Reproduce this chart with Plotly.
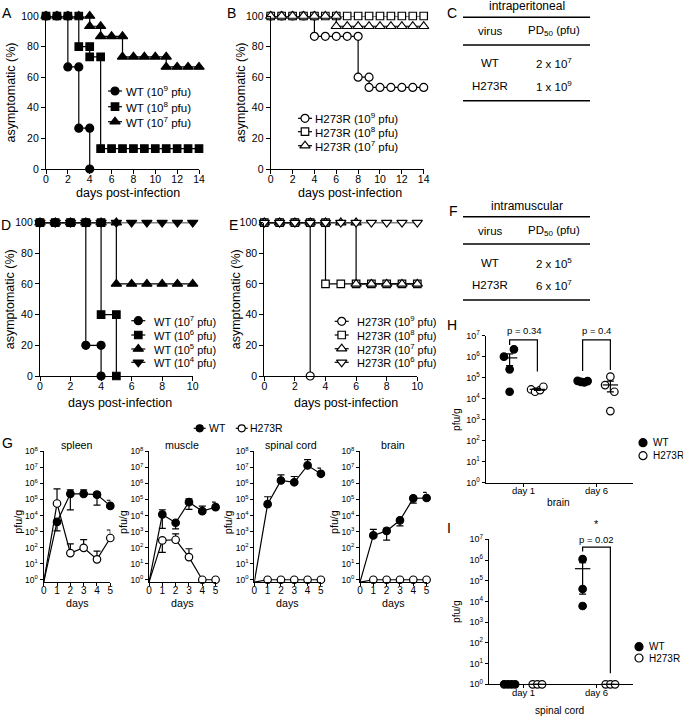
import numpy as np
import plotly.graph_objects as go

W, H = 683, 716
FONT = "Liberation Sans, Arial, sans-serif"
LW = 1.2

# ---------------- data ----------------
# A: WT, intraperitoneal, % asymptomatic by day (day index = position)
A_wt_1e9 = [100, 100, 66.7, 26.7, 0]
A_wt_1e8 = [100, 100, 100, 80, 73.3, 13.3, 13.3, 13.3, 13.3, 13.3, 13.3, 13.3, 13.3, 13.3, 13.3]
A_wt_1e7 = [100, 100, 100, 100, 93.3, 86.7, 86.7, 73.3, 73.3, 73.3, 73.3, 66.7, 66.7, 66.7, 66.7]
A_labels = ["WT (10<sup>9</sup> pfu)", "WT (10<sup>8</sup> pfu)", "WT (10<sup>7</sup> pfu)"]
# B: H273R, intraperitoneal
B_h_1e9 = [100, 100, 100, 100, 86.7, 86.7, 86.7, 86.7, 60, 53.3, 53.3, 53.3, 53.3, 53.3, 53.3]
B_h_1e8 = [100, 100, 100, 100, 100, 100, 100, 100, 100, 100, 100, 100, 100, 100, 100]
B_h_1e7 = [100, 100, 100, 100, 100, 100, 93.3, 93.3, 93.3, 93.3, 93.3, 93.3, 93.3, 93.3, 93.3]
B_labels = ["H273R (10<sup>9</sup> pfu)", "H273R (10<sup>8</sup> pfu)", "H273R (10<sup>7</sup> pfu)"]
# D: WT, intramuscular
D_wt_1e7 = [100, 100, 100, 20, 0]
D_wt_1e6 = [100, 100, 100, 100, 40, 0]
D_wt_1e5 = [100, 100, 100, 100, 100, 60, 60, 60, 60, 60, 60]
D_wt_1e4 = [100, 100, 100, 100, 100, 100, 100, 100, 100, 100, 100]
D_labels = ["WT (10<sup>7</sup> pfu)", "WT (10<sup>6</sup> pfu)", "WT (10<sup>5</sup> pfu)", "WT (10<sup>4</sup> pfu)"]
# E: H273R, intramuscular
E_h_1e9 = [100, 100, 100, 0]
E_h_1e8 = [100, 100, 100, 100, 60, 60, 60, 60, 60, 60, 60]
E_h_1e7 = [100, 100, 100, 100, 100, 100, 60, 60, 60, 60, 60]
E_h_1e6 = [100, 100, 100, 100, 100, 100, 100, 100, 100, 100, 100]
E_labels = ["H273R (10<sup>9</sup> pfu)", "H273R (10<sup>8</sup> pfu)", "H273R (10<sup>7</sup> pfu)", "H273R (10<sup>6</sup> pfu)"]

# Tables C and F
C_rows = [("WT", "2 x 10<sup>7</sup>"), ("H273R", "1 x 10<sup>9</sup>")]
F_rows = [("WT", "2 x 10<sup>5</sup>"), ("H273R", "6 x 10<sup>7</sup>")]

# G: viral titres (log10 pfu/g) by day; None = no bar drawn on that side
G_days = [0, 1, 2, 3, 4, 5]
G_organs = ["spleen", "muscle", "spinal cord", "brain"]
G_wt_log = {
    "spleen":      [-0.15, 3.6, 5.35, 5.35, 5.3, 4.6],
    "muscle":      [-0.15, 4.07, 3.55, 4.83, 4.27, 4.52],
    "spinal cord": [-0.15, 4.71, 6.18, 6.07, 7.12, 6.6],
    "brain":       [-0.15, 2.76, 3.04, 3.7, 5.07, 5.09],
}
G_wt_hi = {
    "spleen":      [None, None, 5.6, 5.6, 5.45, 4.95],
    "muscle":      [None, 4.36, None, 5.04, 4.58, 4.83],
    "spinal cord": [None, 5.17, 6.53, 6.43, 7.48, 6.95],
    "brain":       [None, 3.14, 3.2, None, None, 5.44],
}
G_wt_lo = {
    "spleen":      [None, 3.05, 4.35, None, 4.65, None],
    "muscle":      [None, 3.2, 3.17, 4.38, None, None],
    "spinal cord": [None, None, None, None, None, None],
    "brain":       [None, None, 2.47, 3.35, 4.77, None],
}
G_mut_log = {
    "spleen":      [-0.15, 4.75, 1.66, 1.99, 1.27, 2.6],
    "muscle":      [-0.15, 2.45, 2.49, 1.41, 0, 0],
    "spinal cord": [-0.15, 0, 0, 0, 0, 0],
    "brain":       [-0.15, 0, 0, 0, 0, 0],
}
G_mut_hi = {
    "spleen":      [None, 5.66, 2.24, 2.5, 1.78, 3.1],
    "muscle":      [None, None, 2.86, 1.93, None, None],
    "spinal cord": [None, None, None, None, None, None],
    "brain":       [None, None, None, None, None, None],
}
G_mut_lo = {
    "spleen":      [None, None, None, None, None, None],
    "muscle":      [None, 1.7, None, None, None, None],
    "spinal cord": [None, None, None, None, None, None],
    "brain":       [None, None, None, None, None, None],
}

# H (brain) and I (spinal cord): individual mice, log10 pfu/g
H_day1_wt = [6.0, 6.35, 5.4, 4.33]
H_day1_mut = [4.44, 4.33, 4.41, 4.57]
H_day6_wt = [4.85, 4.80, 4.78, 4.84]
H_day6_mut = [5.05, 4.65, 4.33, 3.41]
I_day1_wt = [0, 0, 0, 0]
I_day1_mut = [0, 0, 0]
I_day6_wt = [6.04, 4.6, 3.78]
I_day6_mut = [0, 0, 0]
HI_days = ["day 1", "day 6"]
H_p = ["p = 0.34", "p = 0.4"]
I_p = ["p = 0.02"]

# horizontal spread of dots inside a group (pixels, layout only)
H_jit = {"d1wt": [-5.7, 4.3, 0, 0], "d1mut": [-6.3, -2.3, 2.7, 6.0],
         "d6wt": [-5, -1.7, 1.7, 5], "d6mut": [0, -5.3, 4.0, 0]}
I_jit = {"d1wt": [-5.5, -1.8, 1.8, 5.5], "d1mut": [-4.7, 0, 4.7],
         "d6wt": [0, 0, 0], "d6mut": [-4.7, 0, 4.7]}

# ---------------- helpers ----------------
def xdom(a, b):
    return [a / W, b / W]

def ydom(top, bot):
    return [1 - bot / H, 1 - top / H]

def PX(x):
    return x / W

def PY(y):
    return 1 - y / H

def ref(i, c):
    return c if i == 1 else f"{c}{i}"

def axkey(i, c):
    return f"{c}axis" if i == 1 else f"{c}axis{i}"

fig = go.Figure()
layout = dict(width=W, height=H, margin=dict(l=0, r=0, t=0, b=0, pad=0, autoexpand=False),
              paper_bgcolor="white", plot_bgcolor="rgba(0,0,0,0)",
              showlegend=False, font=dict(family=FONT, color="black"))
annotations = []
shapes = []

def axis(dom, rng, anchor, tickvals, ticktext=None, size=10.5, ticklen=4, typ="linear", standoff=0):
    d = dict(domain=dom, range=rng, anchor=anchor, type=typ, automargin=False,
             showline=True, linecolor="black", linewidth=LW,
             ticks="outside", ticklen=ticklen, tickwidth=LW, tickcolor="black",
             showgrid=False, zeroline=False, fixedrange=True,
             tickmode="array", tickvals=tickvals, ticklabelstandoff=standoff,
             tickfont=dict(family=FONT, size=size, color="black"))
    if ticktext is not None:
        d["ticktext"] = ticktext
    return d

def text(x, y, s, size=11, xanchor="center", angle=0):
    annotations.append(dict(x=PX(x), y=PY(y), xref="paper", yref="paper", text=s, showarrow=False,
                            xanchor=xanchor, yanchor="middle", textangle=angle,
                            font=dict(family=FONT, size=size, color="black")))

def km_points(vals):
    xs, ys = [], []
    for d, v in enumerate(vals):
        if d > 0 and vals[d - 1] != v:
            xs.append(d)
            ys.append(vals[d - 1])
        xs.append(d)
        ys.append(v)
    return xs, ys

SIZES = {"circle": 8, "square": 7.5, "triangle-up": 9, "triangle-down": 9}

def mk(symbol, filled, size=None):
    return dict(symbol=symbol, size=size or SIZES[symbol], opacity=1,
                color="black" if filled else "white",
                line=dict(color="black", width=LW))

# ---------------- survival panels A, B, D, E ----------------
km_panels = [
    (1, (46, 199), (16, 169), 14,
     [(A_wt_1e9, "circle"), (A_wt_1e7, "triangle-up"), (A_wt_1e8, "square")], True,
     A_labels, ["circle", "square", "triangle-up"], (115, 124), [91, 106.7, 121.7], 11.5,
     (10, 128, 193)),
    (2, (270.7, 423.7), (16, 169), 14,
     [(B_h_1e9, "circle"), (B_h_1e8, "square"), (B_h_1e7, "triangle-up")], False,
     B_labels, ["circle", "square", "triangle-up"], (305, 313), [118.3, 131.7, 145.7], 11.5,
     (240, 350, 193)),
    (3, (40, 192.7), (222.6, 376), 10,
     [(D_wt_1e7, "circle"), (D_wt_1e6, "square"), (D_wt_1e5, "triangle-up"), (D_wt_1e4, "triangle-down")], True,
     D_labels, ["circle", "square", "triangle-up", "triangle-down"], (138.3, 151.5), [320.7, 335, 349, 362.3], 11,
     (10, 120, 403)),
    (4, (264.3, 417.3), (222.6, 376), 10,
     [(E_h_1e9, "circle"), (E_h_1e8, "square"), (E_h_1e7, "triangle-up"), (E_h_1e6, "triangle-down")], False,
     E_labels, ["circle", "square", "triangle-up", "triangle-down"], (341.7, 355), [321.3, 335, 348.7, 362.3], 11,
     (236, 346, 403)),
]

KEY = 11  # overlay pixel axis for legend keys
key_x, key_y = ref(KEY, "x"), ref(KEY, "y")

for (i, xpx, ypx, dmax, series, filled, labels, lsyms, (kx, tx), rows, lsize, (ytx, xtx, xty)) in km_panels:
    layout[axkey(i, "x")] = axis(xdom(*xpx), [0, dmax], ref(i, "y"), list(range(0, dmax + 1, 2)), standoff=-4)
    layout[axkey(i, "y")] = axis(ydom(*ypx), [0, 100], ref(i, "x"), [0, 20, 40, 60, 80, 100])
    for vals, sym in series:
        xs, ys = km_points(vals)
        fig.add_trace(go.Scatter(x=xs, y=ys, xaxis=ref(i, "x"), yaxis=ref(i, "y"),
                                 mode="lines+markers", line=dict(color="black", width=LW),
                                 marker=mk(sym, filled), cliponaxis=False, hoverinfo="skip"))
    for lab, sym, ry in zip(labels, lsyms, rows):
        fig.add_trace(go.Scatter(x=[kx - 7, kx + 7], y=[ry, ry], xaxis=key_x, yaxis=key_y,
                                 mode="lines", line=dict(color="black", width=LW), hoverinfo="skip"))
        fig.add_trace(go.Scatter(x=[kx], y=[ry], xaxis=key_x, yaxis=key_y, mode="markers",
                                 marker=mk(sym, filled), hoverinfo="skip"))
        text(tx, ry, lab, size=lsize, xanchor="left")
    text(ytx, (ypx[0] + ypx[1]) / 2, "asymptomatic (%)", size=12.5, angle=-90)
    text(xtx, xty, "days post-infection", size=12.5)

# ---------------- tables C and F ----------------
def table(title, rows, y_title, y_lines, y_head, y_rows):
    text(527, y_title, title, size=12)
    for yl in y_lines:
        shapes.append(dict(type="line", xref="paper", yref="paper", x0=PX(463), x1=PX(590),
                           y0=PY(yl), y1=PY(yl), line=dict(color="black", width=1.6)))
    text(490, y_head, "virus", size=11.5)
    text(554, y_head, "PD<sub>50</sub> (pfu)", size=11.5)
    for (v, pd), yr in zip(rows, y_rows):
        text(490, yr, v, size=11.5)
        text(554, yr, pd, size=11.5)

table("intraperitoneal", C_rows, 6.5, [17.3, 45, 100.7], 31, [63.3, 86])
table("intramuscular", F_rows, 205.7, [216.7, 244, 300], 230.7, [262.7, 285])

# ---------------- G: time courses ----------------
G_x0 = [43.7, 149, 254.3, 360]
G_title_x = [76.7, 182.3, 290.7, 393.3]
G_top, G_bot = 451.3, 582
log_ticks = [10 ** k for k in range(9)]
log_text = [f"10<sup>{k}</sup>" for k in range(9)]

def err_arrays(vals, hi, lo):
    y = [10 ** v for v in vals]
    up = [(10 ** h - yy) if h is not None else 0 for h, yy in zip(hi, y)]
    dn = [(yy - 10 ** l) if l is not None else 0 for l, yy in zip(lo, y)]
    return y, up, dn

for k, organ in enumerate(G_organs):
    i = 5 + k
    x0 = G_x0[k]
    layout[axkey(i, "x")] = axis(xdom(x0, x0 + 66.6), [0, 5], ref(i, "y"), G_days, size=10, ticklen=3,
                                 standoff=-4)
    layout[axkey(i, "y")] = axis(ydom(G_top, G_bot), [-0.14, 8], ref(i, "x"), log_ticks, log_text,
                                 size=8.5, ticklen=3, typ="log")
    for vals, hi, lo, filled in [(G_wt_log[organ], G_wt_hi[organ], G_wt_lo[organ], True),
                                 (G_mut_log[organ], G_mut_hi[organ], G_mut_lo[organ], False)]:
        y, up, dn = err_arrays(vals, hi, lo)
        fig.add_trace(go.Scatter(x=G_days[1:], y=y[1:], xaxis=ref(i, "x"), yaxis=ref(i, "y"),
                                 mode="markers", marker=dict(size=1, color="black", opacity=1),
                                 error_y=dict(type="data", symmetric=False, array=up[1:], arrayminus=dn[1:],
                                              color="black", thickness=LW, width=3.5),
                                 cliponaxis=False, hoverinfo="skip"))
        fig.add_trace(go.Scatter(x=G_days, y=y, xaxis=ref(i, "x"), yaxis=ref(i, "y"),
                                 mode="lines+markers", line=dict(color="black", width=LW),
                                 marker=dict(symbol="circle", size=[0] + [7.5] * 5, opacity=1,
                                             color="black" if filled else "white",
                                             line=dict(color="black", width=LW)),
                                 cliponaxis=False, hoverinfo="skip"))
    text(G_title_x[k], 445, organ, size=10.7)
    text(x0 + 33.3, 603, "days", size=10.7)
    text(x0 - 26, 522, "pfu/g", size=10.7, angle=-90)

# G legend
for kx, tx, lab, filled in [(199.7, 206.5, "WT", True), (241.7, 247.5, "H273R", False)]:
    fig.add_trace(go.Scatter(x=[kx - 6, kx + 6], y=[428.3, 428.3], xaxis=key_x, yaxis=key_y,
                             mode="lines", line=dict(color="black", width=LW), hoverinfo="skip"))
    fig.add_trace(go.Scatter(x=[kx], y=[428.3], xaxis=key_x, yaxis=key_y, mode="markers",
                             marker=mk("circle", filled, 7), hoverinfo="skip"))
    text(tx, 428.3, lab, size=10.5, xanchor="left")

# ---------------- H and I: scatter with mean +/- SEM ----------------
PXU = 73.0   # pixels per category unit
OFF = 0.19

def mean_sem(logs):
    v = np.array([10 ** x for x in logs])
    m = v.mean()
    s = v.std(ddof=1) / np.sqrt(len(v)) if len(v) > 1 else 0.0
    return m, s

def dot_panel(i, xpx, ypx, xr, groups, jit, brackets, ptexts, legend_xy, title, title_y, ylab_y, star=None):
    layout[axkey(i, "x")] = axis(xdom(*xpx), xr, ref(i, "y"), [1, 2], HI_days, size=9.5, ticklen=3,
                                 standoff=-4)
    layout[axkey(i, "y")] = axis(ydom(*ypx), [0, 7], ref(i, "x"), log_ticks[:8], log_text[:8],
                                 size=9, ticklen=3, typ="log")
    xa, ya = ref(i, "x"), ref(i, "y")
    dec = (ypx[1] - ypx[0]) / 7.0

    def cat_px(c):
        return xpx[0] + (c - xr[0]) * PXU

    def log_py(v):
        return ypx[1] - v * dec

    for cat, key, vals, filled in groups:
        cx = cat + (-OFF if filled else OFF)
        xs = [cx + j / PXU for j in jit[key]]
        fig.add_trace(go.Scatter(x=xs, y=[10 ** v for v in vals], xaxis=xa, yaxis=ya, mode="markers",
                                 marker=mk("circle", filled, 7.5), cliponaxis=False, hoverinfo="skip"))
    for cat, key, vals, filled in groups:
        cx = cat + (-OFF if filled else OFF)
        m, s = mean_sem(vals)
        fig.add_trace(go.Scatter(x=[cx], y=[m], xaxis=xa, yaxis=ya, mode="markers",
                                 marker=dict(symbol="line-ew", size=11, opacity=1,
                                             line=dict(color="black", width=LW)),
                                 error_y=dict(type="data", symmetric=False, array=[s], arrayminus=[s],
                                              color="black", thickness=LW, width=3.5),
                                 cliponaxis=False, hoverinfo="skip"))
    for cat, (yl, ytop, yr) in brackets:
        fig.add_trace(go.Scatter(x=[cat - OFF, cat - OFF, cat + OFF, cat + OFF],
                                 y=[10 ** yl, 10 ** ytop, 10 ** ytop, 10 ** yr], xaxis=xa, yaxis=ya,
                                 mode="lines", line=dict(color="black", width=LW), cliponaxis=False,
                                 hoverinfo="skip"))
    for cat, s, yv in ptexts:
        text(cat_px(cat), log_py(yv), s, size=9.5)
    if star:
        text(cat_px(star[0]), log_py(star[1]), "*", size=11)
    (lx, ly1, ly2) = legend_xy
    fig.add_trace(go.Scatter(x=[lx, lx], y=[ly1, ly2], xaxis=key_x, yaxis=key_y, mode="markers",
                             marker=dict(symbol="circle", size=8, color=["black", "white"], opacity=1,
                                         line=dict(color="black", width=LW)), hoverinfo="skip"))
    text(lx + 8, ly1, "WT", size=10, xanchor="left")
    text(lx + 8, ly2, "H273R", size=10, xanchor="left")
    text((xpx[0] + xpx[1]) / 2 - 1, title_y, title, size=10.2)
    text(456, ylab_y, "pfu/g", size=10.2, angle=-90)

dot_panel(9, (485.7, 633), (335.7, 482.7), [1 - (523.5 - 485.7) / PXU, 2 + (633 - 596.5) / PXU],
          [(1, "d1wt", H_day1_wt, True), (1, "d1mut", H_day1_mut, False),
           (2, "d6wt", H_day6_wt, True), (2, "d6mut", H_day6_mut, False)],
          H_jit, [(1, (6.56, 6.8, 5.29)), (2, (5.32, 6.8, 5.37))],
          [(1.02, H_p[0], 7.24), (2.0, H_p[1], 7.24)], (643, 442.7, 455.7), "brain", 502.7, 420)

dot_panel(10, (489, 633), (539.3, 684.3), [1 - (523.5 - 489) / PXU, 2 + (633 - 596.5) / PXU],
          [(1, "d1wt", I_day1_wt, True), (1, "d1mut", I_day1_mut, False),
           (2, "d6wt", I_day6_wt, True), (2, "d6mut", I_day6_mut, False)],
          I_jit, [(2, (6.41, 6.62, 0.53))],
          [(2.0, I_p[0], 6.97)], (639, 646.7, 658), "spinal cord", 710.7, 612, star=(2.0, 7.73))

# ---------------- panel letters ----------------
for s, x, y in [("A", 7, 13), ("B", 231, 13), ("C", 452, 13), ("D", 6, 225), ("E", 233, 225),
                ("F", 453, 211), ("G", 7, 443), ("H", 452, 325), ("I", 449, 528)]:
    text(x, y, s, size=14)

layout[axkey(KEY, "x")] = dict(domain=[0, 1], range=[0, W], visible=False, fixedrange=True, anchor=key_y)
layout[axkey(KEY, "y")] = dict(domain=[0, 1], range=[H, 0], visible=False, fixedrange=True, anchor=key_x)
layout["annotations"] = annotations
layout["shapes"] = shapes
fig.update_layout(**layout)
fig.write_html("out.html", config={"displayModeBar": False},
               post_script="document.body.style.margin='0';document.body.style.overflow='hidden';")
